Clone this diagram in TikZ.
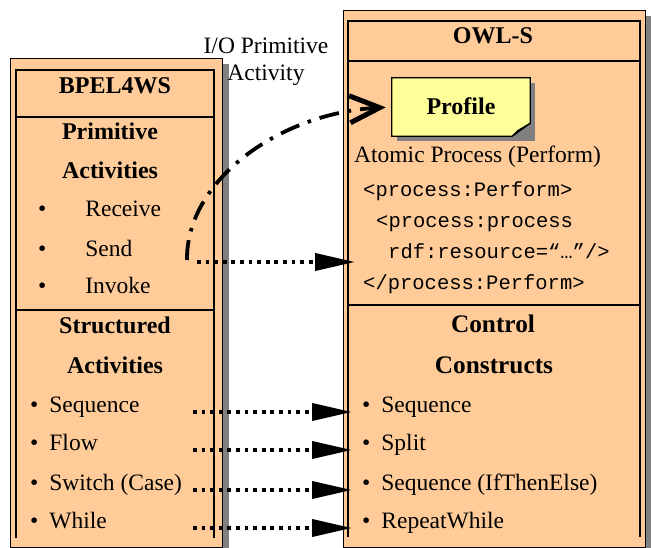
\documentclass[tikz,border=0pt]{standalone}
\usepackage{fontspec}
\setmainfont{Liberation Serif}
\setmonofont{Liberation Mono}
\usetikzlibrary{arrows.meta}

\definecolor{peach}{HTML}{FFCC99}
\definecolor{notey}{HTML}{FFFF99}
\definecolor{shade}{HTML}{808080}

\tikzset{
  panel/.style={fill=peach, draw=black, line width=0.8pt},
  shadow/.style={fill=shade, draw=none},
  frame/.style={line width=2pt},
  txt/.style={inner sep=0pt, font=\fontsize{23.5}{27}\selectfont},
  head/.style={txt, anchor=base, font=\fontsize{24}{27}\selectfont\bfseries},
  bighead/.style={head, font=\fontsize{25.3}{28}\selectfont\bfseries},
  item/.style={txt, anchor=base west},
  code/.style={inner sep=0pt, anchor=base west, font=\fontsize{20.5}{24}\selectfont\ttfamily},
  dotarrow/.style={line width=3.8pt, dash pattern=on 3.8pt off 4.8pt,
    -{Triangle[length=40pt,width=17pt]}},
  dasharrow/.style={line width=3.8pt, dash pattern=on 20pt off 9pt on 3.5pt off 9pt,
    -{Straight Barb[length=30pt,width=27pt,line width=5pt]}}
}

\begin{document}
\begin{tikzpicture}[x=1pt, y=-1pt]
  \useasboundingbox (0,0) rectangle (651,548);
  % linke Tafel: BPEL4WS
  \fill[shadow] (16,64) rectangle (229,555);
  \draw[panel] (10,58) rectangle (222,547);
  \draw[frame] (16,538) -- (16,70) -- (214,70) -- (214,538);
  \draw[frame] (16,117) -- (214,117);
  \draw[frame] (16,310) -- (214,310);
  % rechte Tafel: OWL-S
  \fill[shadow] (349,16) rectangle (655,555);
  \draw[panel] (343,10) rectangle (645,547);
  \draw[frame] (348,537) -- (348,21) -- (640,21) -- (640,537);
  \draw[frame] (348,61) -- (640,61);
  \draw[frame] (348,305) -- (640,305);
  % Notizzettel
  \node[minimum width=138pt, minimum height=58pt, inner sep=0pt] (profile) at (461,107) {};
  \fill[shadow] ([shift={(5pt,-5pt)}]profile.north west) rectangle ([shift={(5pt,-5pt)}]profile.south east);
  \draw[fill=notey, line width=1.2pt] (profile.north west) -- (profile.north east)
    -- ([yshift=13pt]profile.south east) -- ([xshift=-18pt]profile.south east)
    -- (profile.south west) -- cycle;
  \draw[fill=notey!80!shade, line width=1pt] ([yshift=13pt]profile.south east)
    -- ([xshift=-18pt]profile.south east) -- ([xshift=-12pt,yshift=6pt]profile.south east) -- cycle;
  \node[head, anchor=center] (proftxt) at ([yshift=1pt]profile.center) {Profile};
  % Texte links
  \node[head] (bpel) at (115,94) {BPEL4WS};
  \node[head] (prim1) at (110,140) {Primitive};
  \node[head] (prim2) at (110,179) {Activities};
  \foreach \n/\y/\t in {rcv/217/Receive, send/257/Send, inv/294/Invoke}
    \node[item] (\n) at (38,\y) {\textbullet\hspace{39pt}\t};
  \node[head] (str1) at (115,334) {Structured};
  \node[head] (str2) at (115,373) {Activities};
  \foreach \n/\y/\t in {b1/412/Sequence, b2/450/Flow, b3/490/Switch (Case), b4/528/While}
    \node[item] (\n) at (30,\y) {\textbullet\hspace{11pt}\t};
  % Texte rechts
  \node[head] (owls) at (493,44) {OWL-S};
  \node[item] (atomic) at (354,163) {Atomic Process (Perform)};
  \node[code] (perf1) at (363,197) {<process:Perform>};
  \node[code] (proc) at (376,228) {<process:process};
  \node[code] (rdf) at (388,259) {rdf:resource=“…”/>};
  \node[code] (perf2) at (363,290) {</process:Perform>};
  \node[bighead] (ctl1) at (493,332) {Control};
  \node[bighead] (ctl2) at (494,373) {Constructs};
  \foreach \n/\y/\t in {c1/412/Sequence, c2/450/Split, c3/490/Sequence (IfThenElse), c4/528/RepeatWhile}
    \node[item] (\n) at (362,\y) {\textbullet\hspace{11pt}\t};
  \node[txt, align=center] (io) at (266,62) {I/O Primitive\\Activity};
  % Pfeile
  \coordinate (ls) at (193,0);
  \foreach \i in {1,...,4}
    \draw[dotarrow, shorten >=10pt] (ls |- b\i.base) -- (c\i.base west);
  \coordinate (sio) at (197,262);
  \draw[dotarrow, shorten >=33pt] (sio) -- (sio -| rdf.west);
  \coordinate (pio) at (187,260);
  \draw[dasharrow, shorten >=6pt] (pio) .. controls (186,180) and (280,113) .. (profile.west);
\end{tikzpicture}
\end{document}
